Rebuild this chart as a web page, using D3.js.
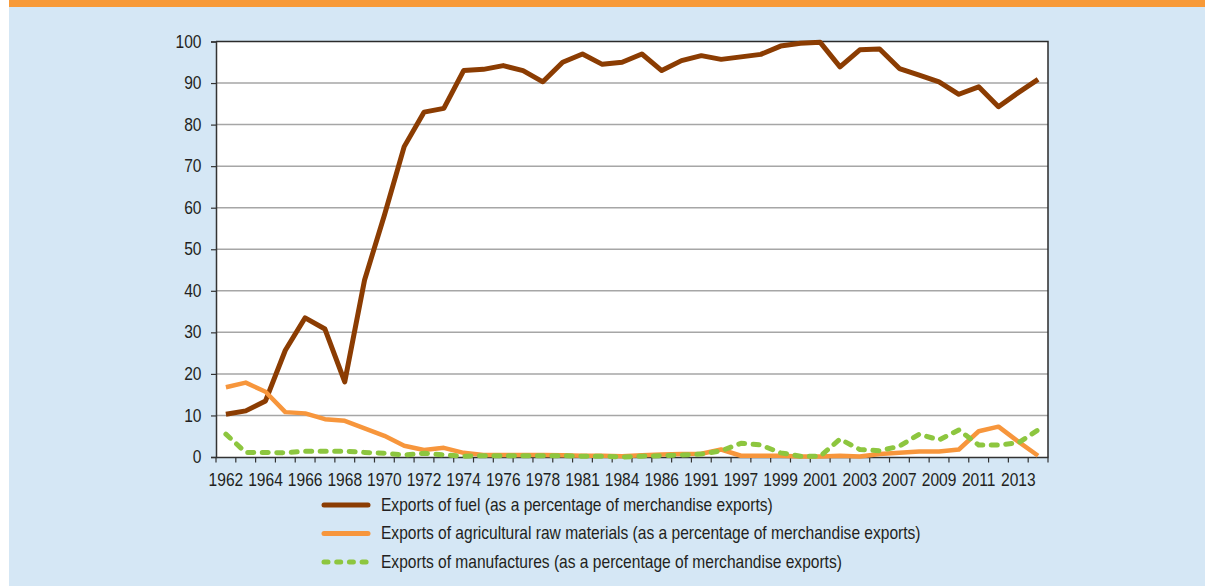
<!DOCTYPE html>
<html><head><meta charset="utf-8">
<script src="https://cdn.jsdelivr.net/npm/d3@7"></script>
<style>
html,body{margin:0;padding:0;background:#fff;}
svg{display:block;}
text{font-family:"Liberation Sans",Arial,sans-serif;fill:#231F20;transform-box:fill-box;}
</style></head>
<body>
<svg id="c" width="1205" height="586"></svg>
<script>
const categories = ["1962","1963","1964","1965","1966","1967","1968","1969","1970","1971","1972","1973","1974","1975","1976","1977","1978","1980","1981","1983","1984","1985","1986","1990","1991","1995","1997","1998","1999","2000","2001","2002","2003","2005","2007","2008","2009","2010","2011","2012","2013","2014"];
const fuel = [10.3,11.1,13.5,25.7,33.5,30.8,18.1,42.6,58.2,74.7,83.0,83.9,93.0,93.3,94.2,93.0,90.3,95.0,97.0,94.5,95.0,97.0,93.0,95.4,96.6,95.7,96.3,96.9,98.9,99.6,99.8,93.9,98.0,98.2,93.5,91.9,90.3,87.3,89.1,84.3,87.7,90.9];
const agri = [16.8,17.9,15.7,10.8,10.5,9.1,8.7,6.9,5.1,2.7,1.7,2.2,1.0,0.5,0.5,0.5,0.5,0.4,0.3,0.3,0.2,0.4,0.6,0.7,0.8,1.8,0.3,0.3,0.3,0.1,0.1,0.3,0.1,0.7,1.0,1.3,1.3,1.8,6.2,7.3,3.7,0.3];
const manuf = [5.5,1.1,1.1,1.0,1.4,1.4,1.4,1.1,0.9,0.5,0.9,0.5,0.2,0.3,0.3,0.3,0.3,0.3,0.2,0.2,0.0,0.2,0.3,0.5,0.7,1.5,3.3,2.9,1.0,0.2,0.2,4.3,1.8,1.5,2.6,5.5,4.1,6.5,2.9,2.9,3.4,6.5];
const yTicks = [0,10,20,30,40,50,60,70,80,90,100];
const seriesNames = ["Exports of fuel (as a percentage of merchandise exports)","Exports of agricultural raw materials (as a percentage of merchandise exports)","Exports of manufactures (as a percentage of merchandise exports)"];

const SX = 0.89;
const FS = "17.5px";
const svg = d3.select("#c");
svg.append("rect").attr("x",9).attr("y",0).attr("width",1196).attr("height",586).attr("fill","#D5E7F5");
svg.append("rect").attr("x",9).attr("y",0).attr("width",1196).attr("height",7).attr("fill","#F89A38");

const L=216,R=1048,T=41.5,B=457;
const x = d3.scaleBand().domain(categories).range([L,R]).padding(0);
const y = d3.scaleLinear().domain([0,100]).range([B,T]);

svg.append("rect").attr("x",L).attr("y",T).attr("width",R-L).attr("height",B-T).attr("fill","#fff");

svg.append("g").selectAll("line").data(yTicks.filter(d=>d>0&&d<100)).join("line")
  .attr("x1",L).attr("x2",R).attr("y1",d=>y(d)).attr("y2",d=>y(d))
  .attr("stroke","#A6A6A6").attr("stroke-width",1.5);

svg.append("path").attr("d",`M${L},${T}H${R}V${B}`).attr("fill","none").attr("stroke","#2b2b2b").attr("stroke-width",1.5);

const ya = svg.append("g").attr("transform",`translate(${L},0)`)
  .call(d3.axisLeft(y).tickValues(yTicks).tickSize(5).tickPadding(9.5));
ya.select(".domain").attr("stroke","#333").attr("stroke-width",1.5);
ya.selectAll(".tick line").attr("stroke","#333").attr("stroke-width",1.2);
ya.selectAll("text").style("font-size",FS).attr("fill","#231F20").attr("font-family",null)
  .style("transform-origin","100% 50%").style("transform",`scaleX(${SX})`);

const xa = svg.append("g").attr("transform",`translate(0,${B})`)
  .call(d3.axisBottom(x).tickValues(categories.filter((d,i)=>i%2===0)).tickSize(0).tickPadding(16.5));
xa.select(".domain").attr("stroke","#333").attr("stroke-width",1.5);
xa.selectAll("text").style("font-size",FS).attr("fill","#231F20").attr("font-family",null)
  .style("transform-origin","50% 50%").style("transform",`scaleX(${SX})`);
const bounds = categories.map(c=>x(c)).concat([R]);
svg.append("g").selectAll("line").data(bounds).join("line")
  .attr("x1",d=>d).attr("x2",d=>d).attr("y1",B).attr("y2",B+5.5)
  .attr("stroke","#333").attr("stroke-width",1.2);

const line = d3.line().x((d,i)=>x(categories[i])+x.bandwidth()/2).y(d=>y(d));
const styles = [
  {data:fuel,color:"#8B3C02",w:5,dash:null},
  {data:agri,color:"#F7963C",w:4.5,dash:null},
  {data:manuf,color:"#8DC63F",w:5,dash:"6,8.5"}
];
styles.forEach(s=>{
  svg.append("path").attr("d",line(s.data)).attr("fill","none")
    .attr("stroke",s.color).attr("stroke-width",s.w)
    .attr("stroke-linejoin","round").attr("stroke-linecap",s.dash?"round":"butt")
    .attr("stroke-dasharray",s.dash);
});

const lg = svg.append("g");
const ly=[505,533.5,562];
styles.forEach((s,i)=>{
  lg.append("line").attr("x1",324).attr("x2",368).attr("y1",ly[i]).attr("y2",ly[i])
    .attr("stroke",s.color).attr("stroke-width",5).attr("stroke-linecap","round")
    .attr("stroke-dasharray",s.dash?"4,8.7":null);
  lg.append("text").attr("x",381).attr("y",ly[i]+6).style("font-size",FS)
    .style("transform-origin","0% 50%").style("transform",`scaleX(${SX})`).text(seriesNames[i]);
});
</script>
</body></html>
